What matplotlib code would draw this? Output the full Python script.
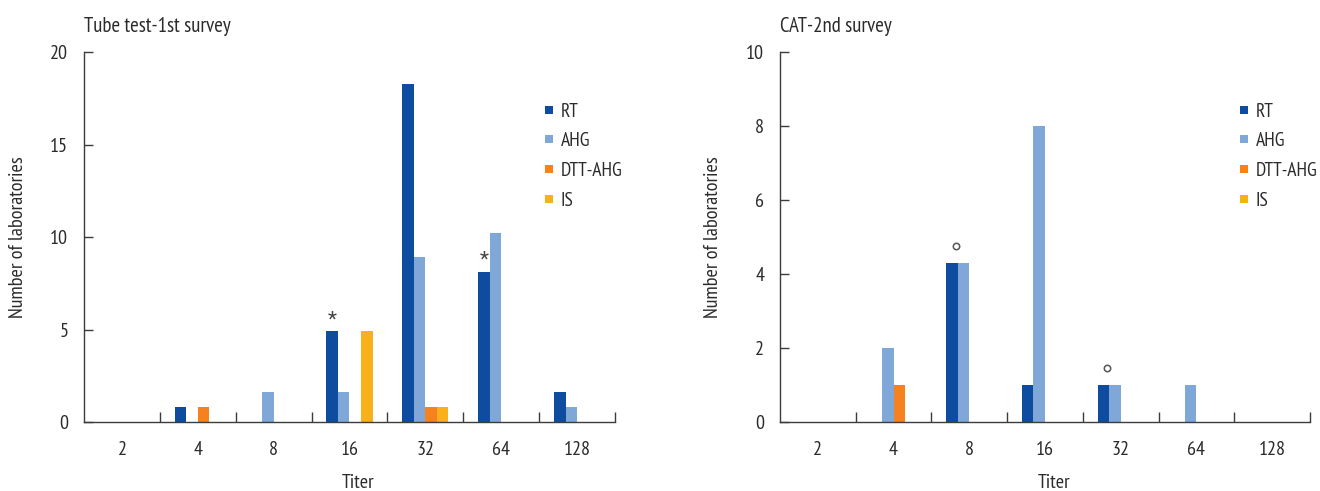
import matplotlib
matplotlib.use("Agg")
import matplotlib.pyplot as plt
import numpy as np
from matplotlib.lines import Line2D
from matplotlib.transforms import offset_copy

plt.rcParams['font.family'] = ['PT Sans Narrow', 'Roboto Condensed', 'DejaVu Sans']

titers = ['2', '4', '8', '16', '32', '64', '128']
series = ['RT', 'AHG', 'DTT-AHG', 'IS']
colors = ['#0D4C9F', '#7FA7D8', '#F5821F', '#FAB01A']

tube_rt = [0, 0.8, 0, 4.9, 18.3, 8.1, 1.6]
tube_ahg = [0, 0, 1.6, 1.6, 8.9, 10.2, 0.8]
tube_dtt = [0, 0.8, 0, 0, 0.8, 0, 0]
tube_is = [0, 0, 0, 4.9, 0.8, 0, 0]
tube_star_idx = [3, 5]          # RT bars marked with *

cat_rt = [0, 0, 4.3, 1, 1, 0, 0]
cat_ahg = [0, 2, 4.3, 8, 1, 1, 0]
cat_dtt = [0, 1, 0, 0, 0, 0, 0]
cat_is = [0, 0, 0, 0, 0, 0, 0]
cat_circle_idx = [2, 4]         # RT bars marked with a small circle

TXT = '#2b2b2b'
AX = '#3c3c3c'

fig = plt.figure(figsize=(13.2, 4.91), dpi=100)
ax1 = fig.add_axes([84/1320, 69/491, 531/1320, 369.7/491])
ax2 = fig.add_axes([780/1320, 69/491, 530/1320, 369.7/491])

bw = 0.152
offsets = np.array([-1.5, -0.5, 0.5, 1.5]) * bw
x = np.arange(len(titers))


def style(ax, title, ymax, ystep, ylab_x):
    for s in ['top', 'right']:
        ax.spines[s].set_visible(False)
    for s in ['left', 'bottom']:
        ax.spines[s].set_color(AX)
        ax.spines[s].set_linewidth(1.0)
        ax.spines[s].set_zorder(5)
    ax.set_xlim(-0.5, len(titers) - 0.5)
    ax.set_ylim(0, ymax)
    ax.set_yticks(np.arange(0, ymax + 0.01, ystep))
    ax.set_xticks(x)
    ax.set_xticklabels(titers)
    ax.set_xticks(np.arange(0.5, len(titers), 1.0), minor=True)
    ax.tick_params(axis='x', which='major', length=0, pad=14, labelsize=14.5, labelcolor=TXT)
    ax.tick_params(axis='x', which='minor', direction='in', length=7.2, width=1.0, color=AX)
    ax.tick_params(axis='y', direction='in', length=6.5, width=1.0, color=AX, pad=11.3,
                   labelsize=14.5, labelcolor=TXT)
    ax.set_xlabel('Titer', fontsize=14.5, color=TXT)
    ax.xaxis.set_label_coords(0.517, -0.14)
    ax.set_ylabel('Number of laboratories', fontsize=14.6, color=TXT)
    ax.yaxis.set_label_coords(ylab_x, 0.5)
    ax.set_title(title, loc='left', fontsize=15, color=TXT, pad=14.4)
    handles = [Line2D([], [], marker='s', linestyle='none', markersize=5.5, color=c,
                      markeredgewidth=0) for c in colors]
    ax.legend(handles, series, loc='upper left', bbox_to_anchor=(0.8665, 0.864),
              frameon=False, fontsize=14, handlelength=0.5, handletextpad=0.35,
              labelspacing=0.6, borderpad=0, borderaxespad=0, labelcolor=TXT)


for ax, data in [(ax1, [tube_rt, tube_ahg, tube_dtt, tube_is]),
                 (ax2, [cat_rt, cat_ahg, cat_dtt, cat_is])]:
    for vals, off, c in zip(data, offsets, colors):
        ax.bar(x + off, vals, width=bw, color=c, linewidth=0, zorder=2)

style(ax1, 'Tube test-1st survey', 20, 5, -0.108)
style(ax2, 'CAT-2nd survey', 10, 2, -0.1085)

tr1 = offset_copy(ax1.transData, fig=fig, y=8.5, units='points')
for i in tube_star_idx:
    ax1.text(x[i] + offsets[0], tube_rt[i], '*', transform=tr1, ha='center', va='center',
             fontsize=15, color='#444444', family=['Roboto Condensed', 'DejaVu Sans'])

tr2 = offset_copy(ax2.transData, fig=fig, y=12.5, units='points')
for i in cat_circle_idx:
    ax2.plot([x[i] + offsets[0] + 0.35 * bw], [cat_rt[i]], marker='o', linestyle='none',
             markersize=4.6, markerfacecolor='white', markeredgecolor='#555555',
             markeredgewidth=1.1, transform=tr2, clip_on=False)

fig.savefig('out.png', dpi=100)
